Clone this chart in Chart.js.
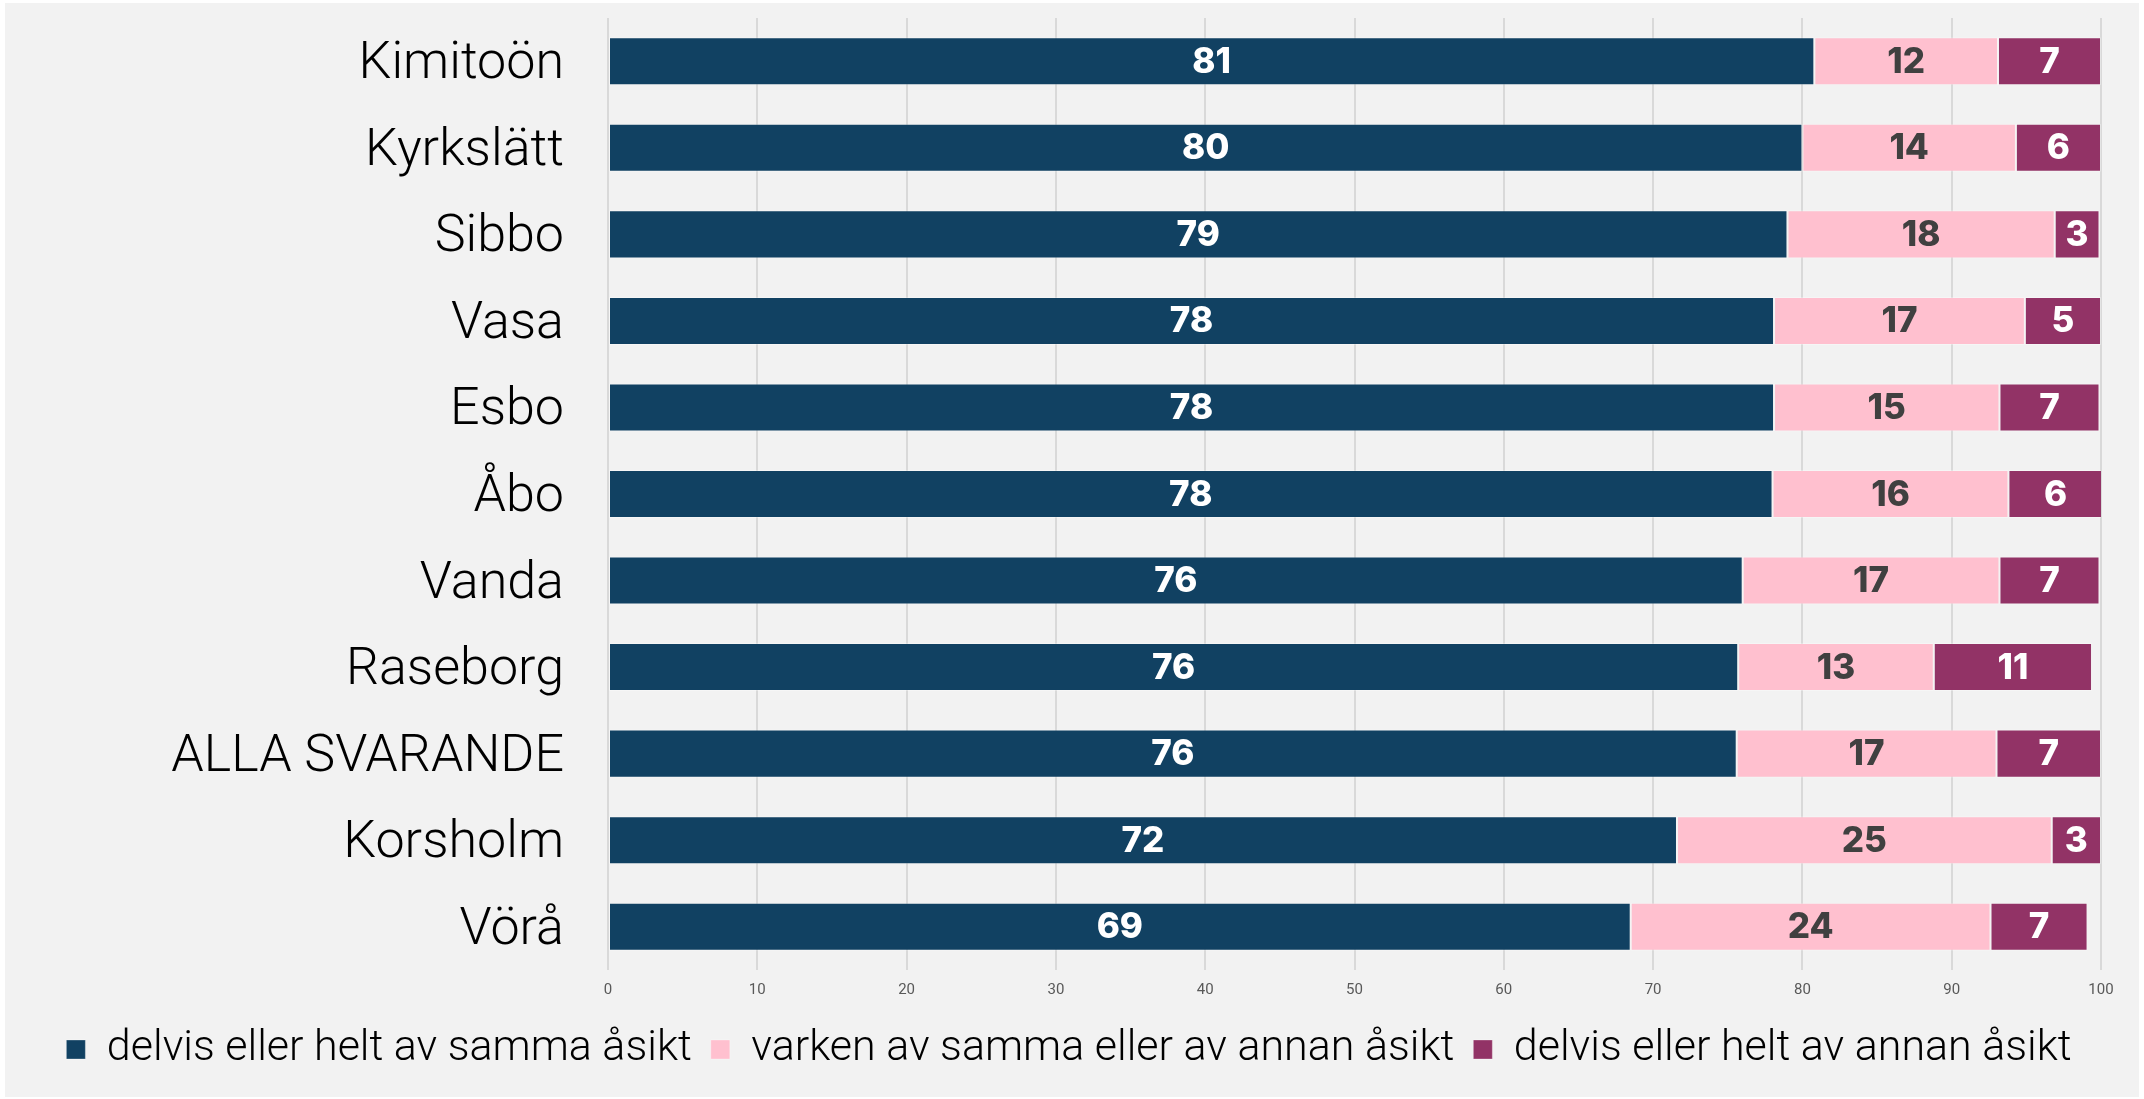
<!DOCTYPE html>
<html><head><meta charset="utf-8">
<script src="https://cdn.jsdelivr.net/npm/chart.js@4.4.1/dist/chart.umd.min.js"></script>
<style>
html,body{margin:0;padding:0;background:#ffffff;overflow:hidden;}
#bg{position:absolute;left:5px;top:3px;width:2134px;height:1094px;background:#f2f2f2;}
#wrap{position:absolute;left:0;top:0;width:2144px;height:1099px;}
</style></head><body>
<div id="bg"></div>
<div id="wrap"><canvas id="c" width="2144" height="1099"></canvas></div>
<script>
const categories = ["Kimitoön","Kyrkslätt","Sibbo","Vasa","Esbo","Åbo","Vanda","Raseborg","ALLA SVARANDE","Korsholm","Vörå"];
const seriesNames = ["delvis eller helt av samma åsikt","varken av samma eller av annan åsikt","delvis eller helt av annan åsikt"];
const sammaValues = [80.8, 80.0, 79.0, 78.1, 78.1, 78.0, 76.0, 75.7, 75.6, 71.6, 68.5];
const varkenValues = [12.3, 14.3, 17.9, 16.8, 15.1, 15.8, 17.2, 13.1, 17.4, 25.1, 24.1];
const annanValues = [6.9, 5.7, 3.0, 5.1, 6.7, 6.3, 6.7, 10.6, 7.0, 3.3, 6.5];
const xTickValues = [0,10,20,30,40,50,60,70,80,90,100];

const colors = ["#114162", "#ffc0cf", "#923366"];
const labelColors = ["#ffffff", "#404040", "#ffffff"];

const LEGEND_FONT = 43, LEGEND_PAD = 19, CHART_BOTTOM = 970, BOTTOM_PAD = 18;

const barLabels = {
  id: 'barLabels',
  afterLayout(chart) {
    // centre the legend row over the whole picture
    const lg = chart.legend;
    lg.left = 0; lg.right = 2138; lg.width = 2138;
  },
  afterDatasetsDraw(chart) {
    const ctx = chart.ctx;
    ctx.save();
    ctx.font = '800 35px Inter, "Liberation Sans", Arial, sans-serif';
    ctx.textAlign = 'center';
    ctx.textBaseline = 'middle';
    chart.data.datasets.forEach((ds, di) => {
      const meta = chart.getDatasetMeta(di);
      meta.data.forEach((el, i) => {
        const p = el.getProps(['x','y','base'], true);
        const v = ds.data[i];
        ctx.fillStyle = labelColors[di];
        ctx.fillText(String(Math.round(v)), (p.x + p.base) / 2, p.y + 1);
      });
    });
    ctx.restore();
  }
};

new Chart(document.getElementById('c'), {
  type: 'bar',
  data: {
    labels: categories,
    datasets: [
      { label: seriesNames[0], data: sammaValues, backgroundColor: colors[0] },
      { label: seriesNames[1], data: varkenValues, backgroundColor: colors[1] },
      { label: seriesNames[2], data: annanValues, backgroundColor: colors[2] }
    ].map(d => Object.assign(d, {
      borderWidth: 1, borderColor: 'rgba(255,255,255,0.3)', borderSkipped: false,
      categoryPercentage: 1.0, barPercentage: 0.555
    }))
  },
  options: {
    indexAxis: 'y',
    responsive: false,
    animation: false,
    devicePixelRatio: 1,
    layout: { padding: { top: 18, right: 43, left: 0, bottom: BOTTOM_PAD } },
    plugins: {
      tooltip: { enabled: false },
      legend: {
        position: 'bottom',
        labels: {
          boxWidth: 19, boxHeight: 19, padding: LEGEND_PAD,
          color: '#000000',
          font: { family: 'Roboto', size: LEGEND_FONT, weight: '300' }
        }
      }
    },
    scales: {
      x: {
        stacked: true, min: 0, max: 100,
        afterBuildTicks(scale) { scale.ticks = xTickValues.map(v => ({ value: v })); },
        ticks: { color: '#595959', font: { family: 'Roboto', size: 15 }, padding: 11, maxRotation: 0 },
        grid: { color: '#d9d9d9', lineWidth: 2, drawTicks: false },
        border: { display: false },
        afterFit(scale) {
          const legendTop = 1099 - BOTTOM_PAD - (LEGEND_FONT + LEGEND_PAD + 10);
          scale.height = legendTop - CHART_BOTTOM;
        }
      },
      y: {
        stacked: true,
        ticks: { color: '#000000', font: { family: 'Roboto', size: 52, weight: '300' }, padding: 36, labelOffset: 4 },
        grid: { display: false },
        border: { display: false },
        afterFit(scale) { scale.width = 608; scale.paddingTop = 0; scale.paddingBottom = 0; }
      }
    }
  },
  plugins: [barLabels]
});
</script>
</body></html>
